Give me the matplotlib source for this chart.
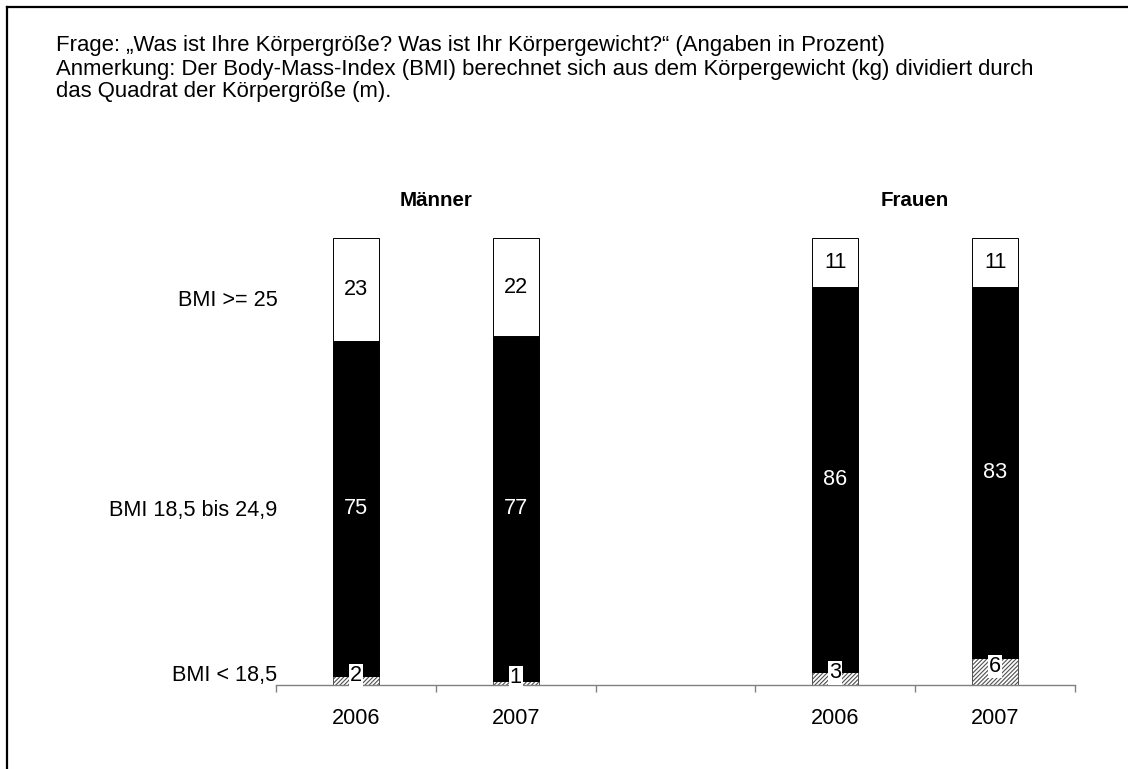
import matplotlib
matplotlib.use("Agg")
import matplotlib.pyplot as plt
from matplotlib.lines import Line2D

plt.rcParams['font.family'] = ['Liberation Sans', 'DejaVu Sans']
plt.rcParams['hatch.linewidth'] = 0.8

# ---- data ----
header_lines = [
    "Frage: \u201eWas ist Ihre Körpergröße? Was ist Ihr Körpergewicht?\u201c (Angaben in Prozent)",
    "Anmerkung: Der Body-Mass-Index (BMI) berechnet sich aus dem Körpergewicht (kg) dividiert durch",
    "das Quadrat der Körpergröße (m).",
]
groups = ["Männer", "Frauen"]
years = ["2006", "2007", "2006", "2007"]
categories = ["BMI < 18,5", "BMI 18,5 bis 24,9", "BMI >= 25"]
under = [2, 1, 3, 6]
normal = [75, 77, 86, 83]
over = [23, 22, 11, 11]

# ---- layout ----
W, H = 1128, 769
fig = plt.figure(figsize=(W / 100, H / 100), dpi=100)
ax = fig.add_axes([276 / W, 84 / H, 799 / W, 447 / H])

xpos = [0, 1, 3, 4]
bw = 0.29

ax.bar(xpos, under, bw, color='white', edgecolor='#505050', hatch='////////', linewidth=0.7)
bottom2 = under
ax.bar(xpos, normal, bw, bottom=bottom2, color='black', edgecolor='black', linewidth=0.7)
bottom3 = [a + b for a, b in zip(under, normal)]
ax.bar(xpos, over, bw, bottom=bottom3, color='white', edgecolor='black', linewidth=0.7)

fs = 15.6
for x, u, n, o, b2_, b3_ in zip(xpos, under, normal, over, bottom2, bottom3):
    ax.text(x, u / 2 + 1.2, str(u), ha='center', va='center', fontsize=fs, color='black',
            bbox=dict(facecolor='white', edgecolor='none', pad=0.8), zorder=5)
    ax.text(x, b2_ + n / 2, str(n), ha='center', va='center', fontsize=fs, color='white')
    ax.text(x, b3_ + o / 2, str(o), ha='center', va='center', fontsize=fs, color='black')

ax.set_xlim(-0.5, 4.5)
ax.set_ylim(0, 100)
for s in ['top', 'right', 'left']:
    ax.spines[s].set_visible(False)
ax.spines['bottom'].set_color('#808080')
ax.spines['bottom'].set_linewidth(1.0)
ax.set_yticks([])
ax.set_xticks([-0.5, 0.5, 1.5, 2.5, 3.5, 4.5])
ax.set_xticklabels([])
ax.tick_params(axis='x', direction='out', length=5, width=1.0, color='#808080')

for x, y in zip(xpos, years):
    ax.text(x, -7.4, y, ha='center', va='center', fontsize=fs, clip_on=False)

for gx, g in zip([0.5, 3.5], groups):
    ax.text(gx, 108.5, g, ha='center', va='center', fontsize=14.8, fontweight='bold', clip_on=False)

for cy, c in zip([2.2, 39.1, 86.1], categories):
    ax.text(-0.49, cy, c, ha='right', va='center', fontsize=fs, clip_on=False)

for i, line in enumerate(header_lines):
    fig.text(56 / W, 1 - (51.5 + 23 * i) / H, line, ha='left', va='baseline', fontsize=15.9)

# frame (left and top)
fig.add_artist(Line2D([7 / W, 7 / W], [0, 1 - 7 / H], transform=fig.transFigure, color='black', lw=1.6))
fig.add_artist(Line2D([7 / W, 1], [1 - 7 / H, 1 - 7 / H], transform=fig.transFigure, color='black', lw=1.6))

fig.savefig("out.png", dpi=100)
